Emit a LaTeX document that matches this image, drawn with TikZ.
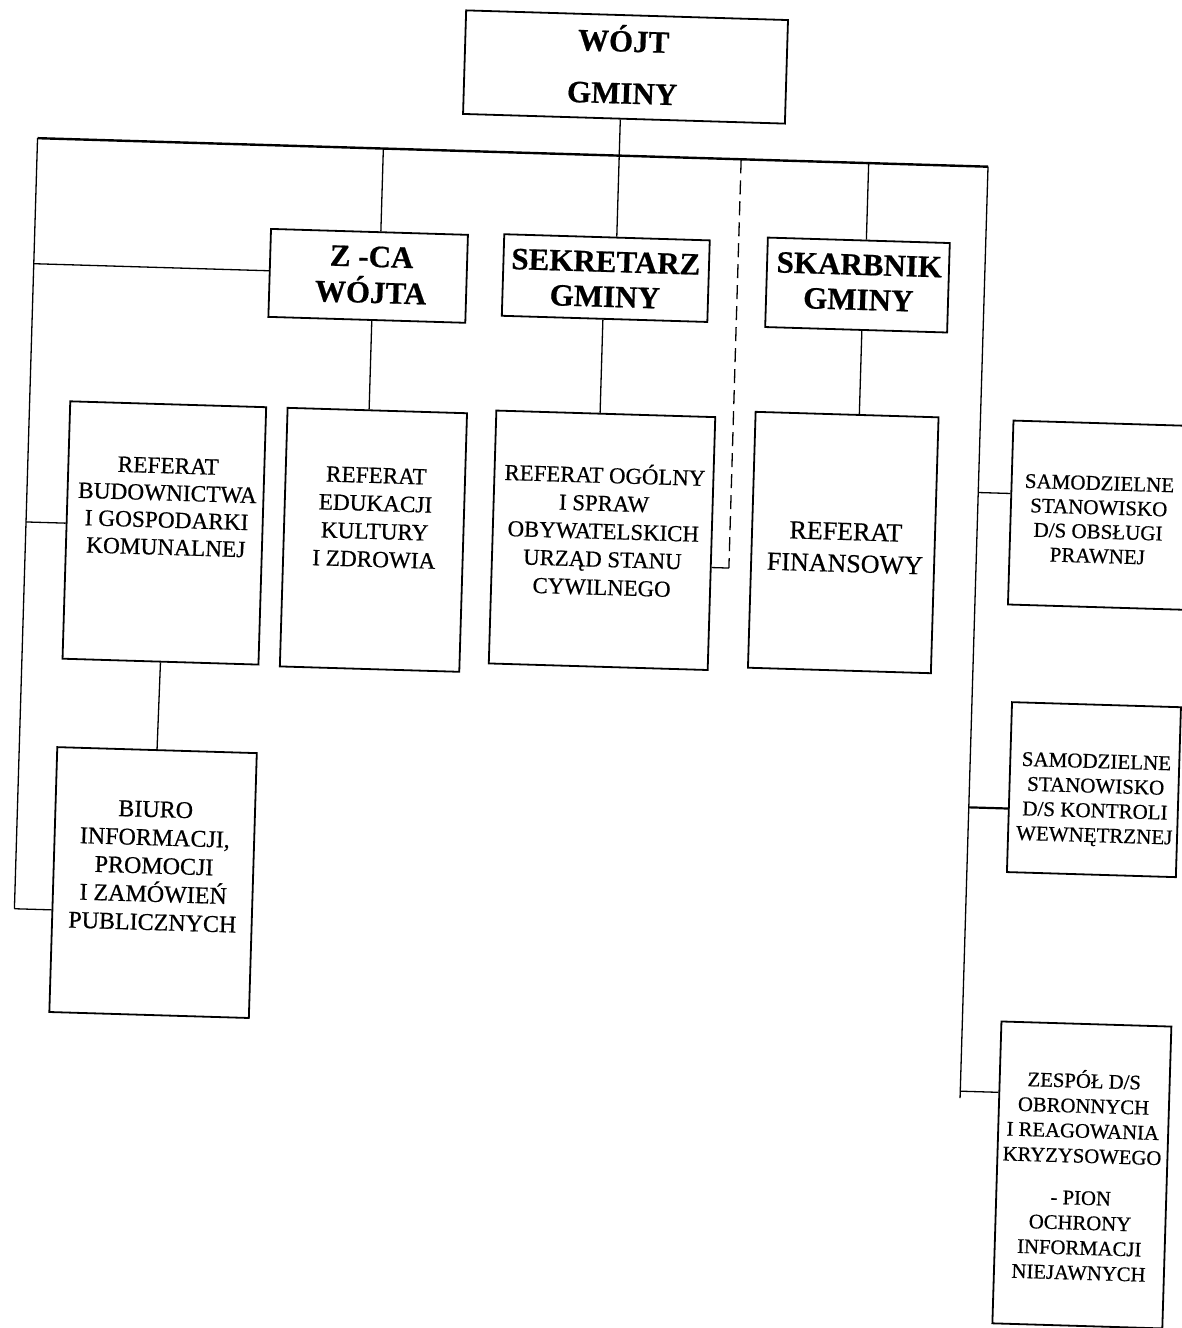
\documentclass[tikz,border=0pt]{standalone}
\usepackage{fontspec}
\setmainfont{Liberation Serif}[FakeBold=0.6]
\newcommand\tbA{\rule{0pt}{1.05em}}
\newcommand\tbZ{\rule[-.35em]{0pt}{.35em}}
\newcommand\fs[2]{\fontsize{#1}{#2}\selectfont\lineskiplimit=-100pt\lineskip=0pt}
\tikzset{
  box/.style={draw, line width=1.8pt, rectangle, inner sep=0pt},
  conn/.style={line width=1.3pt},
  bus/.style={line width=2.4pt},
  txt/.style={inner sep=0pt, align=center},
  head/.style={txt, font=\fs{31pt}{35pt}\bfseries},
}
\begin{document}
\begin{tikzpicture}[x=1pt,y=-1pt]
\useasboundingbox (0,0) rectangle (1182,1328);
\begin{scope}[rotate around={-1.72:(591,664)}, transform shape]
% boxes
\node[box, minimum width=322pt, minimum height=103.6pt] (wojt) at (607.6,66.2) {};
\node[box, minimum width=197pt, minimum height=88pt] (zca) at (356.6,282.7) {};
\node[box, minimum width=205.6pt, minimum height=81.6pt] (sek) at (594.2,277.8) {};
\node[box, minimum width=182pt, minimum height=89.5pt] (ska) at (846,277.2) {};
\node[box, minimum width=196pt, minimum height=257.5pt] (bud) at (160.6,545.8) {};
\node[box, minimum width=179.5pt, minimum height=258.7pt] (edu) at (369.8,546.4) {};
\node[box, minimum width=219pt, minimum height=253pt] (ogo) at (598.3,540) {};
\node[box, minimum width=183pt, minimum height=256pt] (fin) at (839.5,535) {};
\node[box, minimum width=199.6pt, minimum height=265pt] (biuro) at (159.8,895.6) {};
\node[box, minimum width=186pt, minimum height=184pt] (sam1) at (1099,500) {};
\node[box, minimum width=169pt, minimum height=170pt] (sam2) at (1097.5,774.5) {};
\node[box, minimum width=170pt, minimum height=302pt] (zes) at (1097,1160) {};
% texts
\node[head, font=\fs{31pt}{52pt}\bfseries] (wojtT) at (605,66) {\tbA WÓJT\\GMINY\tbZ};
\node[head, font=\fs{31pt}{36pt}\bfseries] (zcaT) at (359.6,280.75) {\tbA Z -CA\\WÓJTA\tbZ};
\node[head] (sekT) at (593.8,278.25) {\tbA SEKRETARZ\\GMINY\tbZ};
\node[head] (skaT) at (847.3,273.65) {\tbA SKARBNIK\\GMINY\tbZ};
\node[txt, font=\fs{23.3pt}{27.2pt}] (budT) at (162.5,518.7) {\tbA REFERAT\\BUDOWNICTWA\\I GOSPODARKI\\KOMUNALNEJ\tbZ};
\node[txt, font=\fs{23.2pt}{28pt}] (eduT) at (370.8,523.4) {\tbA REFERAT\\EDUKACJI\\KULTURY\\I ZDROWIA\tbZ};
\node[txt, font=\fs{22.8pt}{28pt}] (ogoT) at (599.3,530.6) {\tbA REFERAT OGÓLNY\\I SPRAW\\OBYWATELSKICH\\URZĄD STANU\\CYWILNEGO\tbZ};
\node[txt, font=\fs{26pt}{32pt}] (finT) at (841.8,539.3) {\tbA REFERAT\\FINANSOWY\tbZ};
\node[txt, font=\fs{24pt}{28.25pt}] (biuT) at (160.3,878.2) {\tbA BIURO\\INFORMACJI,\\PROMOCJI\\I ZAMÓWIEŃ\\PUBLICZNYCH\tbZ};
\node[txt, font=\fs{21pt}{24.3pt}] (s1T) at (1093.9,503.95) {\tbA SAMODZIELNE\\STANOWISKO\\D/S OBSŁUGI\\PRAWNEJ\tbZ};
\node[txt, font=\fs{21pt}{24.7pt}] (s2T) at (1099.2,782.55) {\tbA SAMODZIELNE\\STANOWISKO\\D/S KONTROLI\\WEWNĘTRZNEJ\tbZ};
\node[txt, font=\fs{20.7pt}{25pt}] (zesT) at (1096.6,1161.55) {\tbA ZESPÓŁ D/S\\OBRONNYCH\\I REAGOWANIA\\KRYZYSOWEGO\\[17pt]- PION\\OCHRONY\\INFORMACJI\\NIEJAWNYCH\tbZ};
% bus
\coordinate (TL) at (22,155);
\coordinate (TR) at (973,155);
\coordinate (LB) at (22,926);
\coordinate (RB) at (973,1087);
\draw[bus] (TL) -- (TR);
\draw[conn] (TL) -- (LB);
\draw[conn] (TR) -- (RB);
% left branches
\coordinate (bZ) at (22,280.6);
\draw[conn] (bZ) -- ([yshift=2.1pt]zca.west);
\coordinate (bB) at (22,539);
\draw[conn] (bB) -- ([yshift=6.8pt]bud.west);
\draw[conn] (LB) -- ([yshift=-30.4pt]biuro.west);
% top connectors
\coordinate (jZ) at (368,155);
\draw[conn] (jZ) -- ([xshift=11.4pt]zca.north);
\draw[conn] ([xshift=-3.6pt]wojt.south) -- ([xshift=9.8pt]sek.north);
\coordinate (jS) at (853.6,155);
\draw[conn] (jS) -- ([xshift=7.6pt]ska.north);
\draw[conn] ([xshift=5pt]zca.south) -- ([xshift=-8.2pt]edu.north);
\draw[conn] ([xshift=-1.6pt]sek.south) -- ([xshift=-5.7pt]ogo.north);
\draw[conn] ([xshift=5.8pt]ska.south) -- ([xshift=12.3pt]fin.north);
\draw[conn] (bud.south) -- (biuro.north);
% dashed link
\coordinate (jD) at (726,155);
\coordinate (dD) at (726,564);
\draw[conn, dash pattern=on 14pt off 7pt] (jD) -- (dD);
\draw[conn] (dD) -- ([yshift=-24pt]ogo.east);
% right branches
\coordinate (r1) at (973,481);
\draw[conn] (r1) -- ([yshift=19pt]sam1.west);
\coordinate (r2) at (973,796);
\draw[conn, line width=2.2pt] (r2) -- ([yshift=-21.5pt]sam2.west);
\coordinate (r3) at (973,1080);
\draw[conn] (r3) -- ([yshift=80pt]zes.west);
\end{scope}
\end{tikzpicture}
\end{document}
